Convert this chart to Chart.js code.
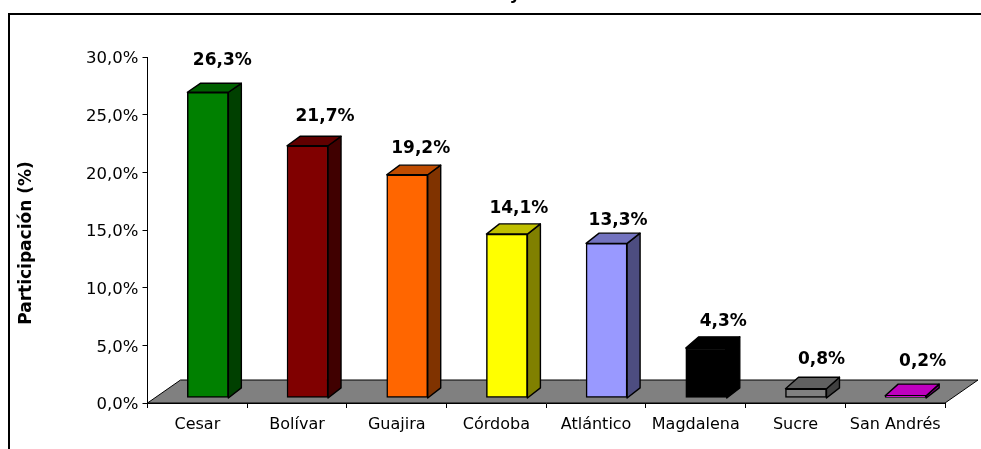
<!DOCTYPE html>
<html>
<head>
<meta charset="utf-8">
<style>
  html, body { margin: 0; padding: 0; background: #fff; }
  #grafico { display: block; }
</style>
<script src="https://cdn.jsdelivr.net/npm/chart.js@4"></script>
</head>
<body>
<div style="width:981px;height:449px"><canvas id="grafico"></canvas></div>
<script>
const categorias = ["Cesar", "Bolívar", "Guajira", "Córdoba", "Atlántico", "Magdalena", "Sucre", "San Andrés"];
const participacion = [26.3, 21.7, 19.2, 14.1, 13.3, 4.3, 0.8, 0.2];
const colorFrente = ["#008000", "#800000", "#ff6600", "#ffff00", "#9999ff", "#000000", "#808080", "#ff00ff"];
const colorTecho = ["#006000", "#600000", "#bf4c00", "#bfbf00", "#7373bf", "#000000", "#606060", "#bf00bf"];
const colorLado = ["#004000", "#400000", "#803300", "#808000", "#4d4d80", "#000000", "#404040", "#800080"];

// las etiquetas estan movidas a mano en el original
const etiquetaX = [14.5, 17.5, 13.5, 12, 11.5, 17, 15.5, 17];
const etiquetaY = [-34, -31, -28, -27, -24, -27, -29, -34];

const fuente = '"DejaVu Sans", Verdana, sans-serif';
// profundidad del efecto 3D
const fondoX = 33, fondoY = 23;
const barraX = 13, barraY = 10;
// las barras se apoyan un poco adelante del piso
const despX = 10.5, despY = 5, estira = 1.008;

function formato(v) {
  return v.toFixed(1).replace(".", ",") + "%";
}

// mueve un metodo de dibujo del eje unos pixeles
function correrDibujo(scale, metodo, dx, dy) {
  const original = scale[metodo];
  scale[metodo] = function (area) {
    this.ctx.save();
    this.ctx.translate(dx, dy);
    original.call(this, area);
    this.ctx.restore();
  };
}

const efecto3d = {
  id: "efecto3d",
  beforeDraw(chart) {
    const ctx = chart.ctx;
    if (!chart.$corrido) {
      correrDibujo(chart.scales.y, "drawLabels", 0, 2);
      correrDibujo(chart.scales.y, "drawTitle", 3, 13);
      chart.$corrido = true;
    }
    ctx.save();
    ctx.fillStyle = "#fff";
    ctx.fillRect(0, 0, chart.width, chart.height);
    // marco recortado
    ctx.strokeStyle = "#000";
    ctx.lineWidth = 2;
    ctx.beginPath();
    ctx.moveTo(9, chart.height);
    ctx.lineTo(9, 14);
    ctx.lineTo(chart.width, 14);
    ctx.stroke();
    // titulo cortado arriba, solo se ve la cola de la letra
    ctx.fillStyle = "#000";
    ctx.font = "bold 17px " + fuente;
    ctx.textAlign = "center";
    ctx.fillText("y", 515, -1);
    ctx.restore();
  },
  beforeDatasetsDraw(chart) {
    // piso gris
    const ctx = chart.ctx, a = chart.chartArea;
    ctx.save();
    ctx.fillStyle = "#808080";
    ctx.strokeStyle = "#000";
    ctx.lineWidth = 1;
    ctx.beginPath();
    ctx.moveTo(a.left, a.bottom);
    ctx.lineTo(a.right, a.bottom);
    ctx.lineTo(a.right + fondoX, a.bottom - fondoY);
    ctx.lineTo(a.left + fondoX, a.bottom - fondoY);
    ctx.closePath();
    ctx.fill();
    ctx.stroke();
    ctx.restore();
  },
  beforeDatasetDraw(chart) {
    const ctx = chart.ctx, base = chart.scales.y.getPixelForValue(0);
    ctx.save();
    ctx.translate(despX, base * (1 - estira) - despY);
    ctx.scale(1, estira);
    ctx.strokeStyle = "#000";
    ctx.lineWidth = 1.4;
    ctx.lineJoin = "round";
    chart.getDatasetMeta(0).data.forEach((barra, i) => {
      const x0 = barra.x - barra.width / 2, x1 = barra.x + barra.width / 2;
      // la perspectiva hace el techo mas hondo en las barras bajas
      const hondo = 11.5 - participacion[i] * 0.1;
      ctx.fillStyle = colorLado[i];
      ctx.beginPath();
      ctx.moveTo(x1, barra.y);
      ctx.lineTo(x1 + barraX, barra.y - hondo);
      ctx.lineTo(x1 + barraX, base - barraY);
      ctx.lineTo(x1, base);
      ctx.closePath();
      ctx.fill();
      ctx.stroke();
      ctx.fillStyle = colorTecho[i];
      ctx.beginPath();
      ctx.moveTo(x0, barra.y);
      ctx.lineTo(x0 + barraX, barra.y - hondo);
      ctx.lineTo(x1 + barraX, barra.y - hondo);
      ctx.lineTo(x1, barra.y);
      ctx.closePath();
      ctx.fill();
      ctx.stroke();
    });
  },
  afterDatasetDraw(chart) {
    chart.ctx.restore();
  },
  afterDatasetsDraw(chart) {
    const ctx = chart.ctx;
    ctx.save();
    ctx.fillStyle = "#000";
    ctx.font = "bold 17px " + fuente;
    ctx.textAlign = "center";
    ctx.textBaseline = "middle";
    chart.getDatasetMeta(0).data.forEach((barra, i) => {
      ctx.fillText(formato(participacion[i]), barra.x + despX + etiquetaX[i], barra.y - despY + etiquetaY[i]);
    });
    ctx.restore();
  },
};

new Chart(document.getElementById("grafico"), {
  type: "bar",
  data: {
    labels: categorias,
    datasets: [
      {
        label: "Participación (%)",
        data: participacion,
        backgroundColor: colorFrente,
        borderColor: "#000",
        borderWidth: 1.5,
        borderSkipped: false,
        barThickness: 41,
      },
    ],
  },
  plugins: [efecto3d],
  options: {
    responsive: true,
    maintainAspectRatio: false,
    animation: false,
    layout: {
      padding: { top: 57, right: 36, bottom: 0, left: 0 },
    },
    plugins: {
      legend: { display: false },
      tooltip: { enabled: false },
    },
    scales: {
      x: {
        afterFit(scale) {
          scale.height = 46;
        },
        grid: { drawOnChartArea: false, color: "#000", tickLength: 5 },
        border: { color: "#000" },
        ticks: {
          color: "#000",
          padding: 7,
          maxRotation: 0,
          autoSkip: false,
          font: { family: fuente, size: 16 },
        },
      },
      y: {
        min: 0,
        max: 30,
        afterFit(scale) {
          scale.width = 147.5;
        },
        grid: { drawOnChartArea: false, color: "#000", tickLength: 5 },
        border: { color: "#000" },
        ticks: {
          color: "#000",
          stepSize: 5,
          padding: 4,
          font: { family: fuente, size: 16.5 },
          callback: (v) => formato(v),
        },
        title: {
          display: true,
          text: "Participación (%)",
          color: "#000",
          padding: { top: 13, bottom: 0 },
          font: { family: fuente, size: 17, weight: "bold" },
        },
      },
    },
  },
});
</script>
</body>
</html>
